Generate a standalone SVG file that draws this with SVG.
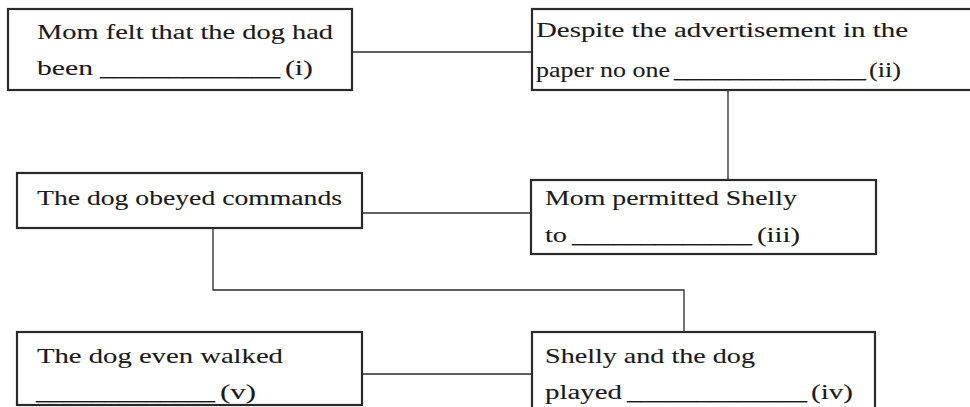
<svg xmlns="http://www.w3.org/2000/svg" width="970" height="407" viewBox="0 0 970 407">
<style>
.box{fill:#fff;stroke:#2a2a2a;stroke-width:2.2}
.t{font-family:"Liberation Serif","Times New Roman",serif;font-size:22px;fill:#1a1a1a;stroke:#1a1a1a;stroke-width:0.12}
.c{stroke:#2a2a2a;stroke-width:1.3;fill:none}
</style>
<rect width="970" height="407" fill="#fff"/>
<g id="connectors">
<line class="c" x1="352" y1="52" x2="532" y2="52"/>
<line class="c" x1="728" y1="90" x2="728" y2="180"/>
<line class="c" x1="362" y1="213" x2="531" y2="213"/>
<polyline class="c" points="213,228 213,290 684,290 684,332"/>
<line class="c" x1="362" y1="374" x2="532" y2="374"/>
</g>
<g id="n1">
<rect class="box" x="8" y="9" width="344" height="81"/>
<text class="t" transform="matrix(1.3 0 0 1 37 39)" textLength="227.7" lengthAdjust="spacingAndGlyphs">Mom felt that the dog had</text>
<text class="t" transform="matrix(1.3 0 0 1 37 75)" textLength="43.1" lengthAdjust="spacingAndGlyphs">been</text>
<text class="t" transform="matrix(1.3 0 0 1 100 75)" textLength="138.5" lengthAdjust="spacingAndGlyphs">_____________</text>
<text class="t" transform="matrix(1.3 0 0 1 285 75)" textLength="21.5" lengthAdjust="spacingAndGlyphs">(i)</text>
</g>
<g id="n2">
<rect class="box" x="532" y="9" width="450" height="81"/>
<text class="t" transform="matrix(1.3 0 0 1 536 37)" textLength="286.2" lengthAdjust="spacingAndGlyphs">Despite the advertisement in the</text>
<text class="t" transform="matrix(1.3 0 0 1 536 77)" textLength="103" lengthAdjust="spacingAndGlyphs">paper no one</text>
<text class="t" transform="matrix(1.3 0 0 1 674 77)" textLength="147.7" lengthAdjust="spacingAndGlyphs">______________</text>
<text class="t" transform="matrix(1.3 0 0 1 869 77)" textLength="24.6" lengthAdjust="spacingAndGlyphs">(ii)</text>
</g>
<g id="n3">
<rect class="box" x="531" y="180" width="345" height="74"/>
<text class="t" transform="matrix(1.3 0 0 1 545 205)" textLength="193.8" lengthAdjust="spacingAndGlyphs">Mom permitted Shelly</text>
<text class="t" transform="matrix(1.3 0 0 1 545 242)" textLength="16.9" lengthAdjust="spacingAndGlyphs">to</text>
<text class="t" transform="matrix(1.3 0 0 1 572 242)" textLength="138.5" lengthAdjust="spacingAndGlyphs">_____________</text>
<text class="t" transform="matrix(1.3 0 0 1 757 242)" textLength="33.1" lengthAdjust="spacingAndGlyphs">(iii)</text>
</g>
<g id="n4">
<rect class="box" x="17" y="173" width="345" height="55"/>
<text class="t" transform="matrix(1.3 0 0 1 37 205)" textLength="234.6" lengthAdjust="spacingAndGlyphs">The dog obeyed commands</text>
</g>
<g id="n5">
<rect class="box" x="17" y="332" width="345" height="73"/>
<text class="t" transform="matrix(1.3 0 0 1 37 363)" textLength="189.2" lengthAdjust="spacingAndGlyphs">The dog even walked</text>
<text class="t" transform="matrix(1.3 0 0 1 36 399)" textLength="137.7" lengthAdjust="spacingAndGlyphs">_____________</text>
<text class="t" transform="matrix(1.3 0 0 1 220 399)" textLength="27.7" lengthAdjust="spacingAndGlyphs">(v)</text>
</g>
<g id="n6">
<rect class="box" x="532" y="332" width="343" height="85"/>
<text class="t" transform="matrix(1.3 0 0 1 545 363)" textLength="161.5" lengthAdjust="spacingAndGlyphs">Shelly and the dog</text>
<text class="t" transform="matrix(1.3 0 0 1 545 399)" textLength="59.2" lengthAdjust="spacingAndGlyphs">played</text>
<text class="t" transform="matrix(1.3 0 0 1 627 399)" textLength="138.5" lengthAdjust="spacingAndGlyphs">_____________</text>
<text class="t" transform="matrix(1.3 0 0 1 811 399)" textLength="32.3" lengthAdjust="spacingAndGlyphs">(iv)</text>
</g>
</svg>
